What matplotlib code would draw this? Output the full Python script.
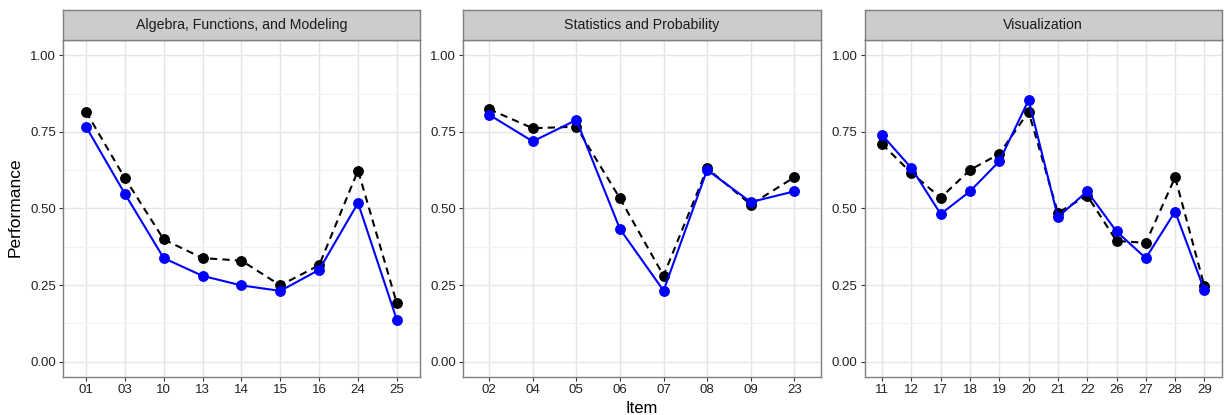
import matplotlib
matplotlib.use("Agg")
import matplotlib.pyplot as plt
from matplotlib.ticker import MultipleLocator

plt.rcParams['font.family'] = ['Liberation Sans', 'DejaVu Sans']

titles = ["Algebra, Functions, and Modeling", "Statistics and Probability", "Visualization"]

items_alg = ["01", "03", "10", "13", "14", "15", "16", "24", "25"]
black_alg = [0.816, 0.599, 0.399, 0.338, 0.330, 0.249, 0.315, 0.624, 0.190]
blue_alg = [0.767, 0.548, 0.338, 0.280, 0.249, 0.231, 0.300, 0.518, 0.136]

items_stat = ["02", "04", "05", "06", "07", "08", "09", "23"]
black_stat = [0.824, 0.762, 0.767, 0.533, 0.281, 0.631, 0.513, 0.602]
blue_stat = [0.806, 0.719, 0.789, 0.433, 0.232, 0.626, 0.521, 0.556]

items_vis = ["11", "12", "17", "18", "19", "20", "21", "22", "26", "27", "28", "29"]
black_vis = [0.710, 0.616, 0.535, 0.626, 0.678, 0.816, 0.486, 0.542, 0.394, 0.388, 0.602, 0.246]
blue_vis = [0.740, 0.632, 0.482, 0.556, 0.654, 0.854, 0.472, 0.556, 0.425, 0.338, 0.490, 0.233]

panels = [
    (items_alg, black_alg, blue_alg),
    (items_stat, black_stat, blue_stat),
    (items_vis, black_vis, blue_vis),
]

W, H = 1225, 415
fig = plt.figure(figsize=(W / 100, H / 100), dpi=100)

lefts = [62.7, 463.0, 864.5]
pw = 357.5
ax_top, ax_bot = 40.0, 377.0
strip_top = 10.0

def frac(x0, y0, x1, y1):
    return [x0 / W, 1 - y1 / H, (x1 - x0) / W, (y1 - y0) / H]

for i, (title, (items, blk, blu)) in enumerate(zip(titles, panels)):
    x0 = lefts[i]
    ax = fig.add_axes(frac(x0, ax_top, x0 + pw, ax_bot))
    n = len(items)
    xs = list(range(n))
    ax.set_xlim(-0.6, n - 1 + 0.6)
    ax.set_ylim(-0.05, 1.05)
    ax.yaxis.set_minor_locator(MultipleLocator(0.125))
    ax.set_yticks([0, 0.25, 0.5, 0.75, 1.0])
    ax.set_yticklabels(["0.00", "0.25", "0.50", "0.75", "1.00"])
    ax.set_xticks(xs)
    ax.set_xticklabels(items)
    ax.grid(True, which='major', color='#e5e5e5', lw=1.0)
    ax.grid(True, which='minor', axis='y', color='#f2f2f2', lw=0.8)
    ax.set_axisbelow(True)
    for s in ax.spines.values():
        s.set_color('#7f7f7f')
        s.set_linewidth(1.0)
    ax.tick_params(axis='both', which='major', length=3, width=0.8, color='#333333',
                   labelsize=9.5, labelcolor='#222222', pad=2)
    ax.tick_params(axis='y', which='minor', length=0)
    ax.plot(xs, blk, color='black', lw=1.5, ls=(0, (3.5, 2.5)), marker='o', ms=6.8, zorder=3)
    ax.plot(xs, blu, color='#0000ff', lw=1.5, ls='-', marker='o', ms=6.8, zorder=4)

    sax = fig.add_axes(frac(x0, strip_top, x0 + pw, ax_top))
    sax.set_facecolor('#cccccc')
    sax.set_xticks([])
    sax.set_yticks([])
    for s in sax.spines.values():
        s.set_color('#7f7f7f')
        s.set_linewidth(1.0)
    sax.text(0.5, 0.5, title, ha='center', va='center', fontsize=10.2, color='#1a1a1a',
             transform=sax.transAxes)

fig.text(15 / W, 1 - 207 / H, "Performance", rotation=90, ha='center', va='center', fontsize=12.5)
fig.text(642 / W, 1 - 408 / H, "Item", ha='center', va='center', fontsize=12)

fig.savefig("out.png", dpi=100)
